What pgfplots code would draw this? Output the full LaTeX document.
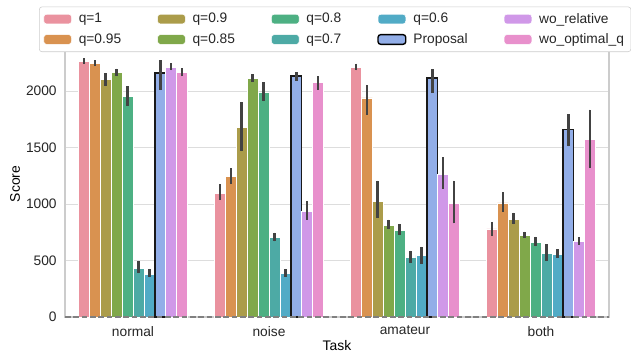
\documentclass[border=0pt]{standalone}
\usepackage{pgfplots}
\pgfplotsset{compat=1.18}
\usepackage{pgfplotstable}
\usepackage{fontspec}
\setmainfont{Liberation Sans}
\definecolor{c1}{HTML}{EA929F}
\definecolor{c2}{HTML}{D99250}
\definecolor{c3}{HTML}{AB9C4A}
\definecolor{c4}{HTML}{80A84A}
\definecolor{c5}{HTML}{4DB083}
\definecolor{c6}{HTML}{4DAAA5}
\definecolor{c7}{HTML}{51ABC6}
\definecolor{c8}{HTML}{92AEE8}
\definecolor{c9}{HTML}{D098E8}
\definecolor{c10}{HTML}{E890CC}
\definecolor{textgray}{HTML}{262626}
\definecolor{gridgray}{HTML}{DDDDDD}
\definecolor{spinegray}{HTML}{CCCCCC}
\definecolor{errgray}{HTML}{424242}
\definecolor{zerogray}{HTML}{808080}

\pgfplotstableread{
x y ep em
0 2264 30 20
1 1097 80 60
2 2214 30 30
3 780 63 63
}\tqa
\pgfplotstableread{
x y ep em
0 2246 30 25
1 1242 77 65
2 1941 116 148
3 1011 95 80
}\tqb
\pgfplotstableread{
x y ep em
0 2104 59 60
1 1677 229 210
2 1025 184 145
3 866 58 45
}\tqc
\pgfplotstableread{
x y ep em
0 2163 36 30
1 2110 41 27
2 812 50 35
3 726 30 24
}\tqd
\pgfplotstableread{
x y ep em
0 1953 91 86
1 1994 86 83
2 765 59 39
3 664 47 36
}\tqe
\pgfplotstableread{
x y ep em
0 430 68 44
1 706 41 36
2 528 59 48
3 566 77 71
}\tqf
\pgfplotstableread{
x y ep em
0 380 47 30
1 385 42 29
2 545 77 77
3 557 45 33
}\tqg
\pgfplotstableread{
x y ep em
0 2160 116 151
1 2134 35 42
2 2116 77 130
3 1662 134 151
}\tprop
\pgfplotstableread{
x y ep em
0 2211 35 24
1 937 88 77
2 1266 147 131
3 670 38 30
}\tworel
\pgfplotstableread{
x y ep em
0 2166 38 33
1 2077 56 62
2 1005 204 175
3 1571 266 252
}\twoopt

\pgfplotsset{
  mybar/.style={ybar, bar width=0.08, bar shift=0, draw=white, line width=0.5pt, forget plot,
    error bars/y dir=both, error bars/y explicit, error bars/error mark=none,
    error bars/error bar style={line width=1.9pt, color=errgray, solid}},
}

\begin{document}
\begin{tikzpicture}
\useasboundingbox (0,0) rectangle (454.32pt,254.16pt);
\clip (0,0) rectangle (454.32pt,254.16pt);
\begin{axis}[
  at={(46.8pt,25.92pt)}, anchor=south west,
  scale only axis, width=391.68pt, height=191.52pt,
  xmin=-0.5, xmax=3.5, ymin=0, ymax=2356,
  xtick={0,1,2,3}, xticklabels={normal,noise,amateur,both},
  ytick={0,500,1000,1500,2000},
  ymajorgrids, grid style={color=gridgray, line width=0.8pt},
  axis line style={color=spinegray, line width=0.8pt},
  major tick length=0pt,
  tick label style={font=\fontsize{9.9}{12}\selectfont, text=textgray},
  /pgf/number format/assume math mode=true,
  /pgf/number format/1000 sep={},
  scaled y ticks=false,
  yticklabel style={xshift=-2.5pt},
  xticklabel style={yshift=-3pt},
  xlabel={Task}, ylabel={Score},
  label style={font=\fontsize{9.9}{12}\selectfont, text=textgray},
  every axis x label/.style={at={(rel axis cs:0.5,0)}, yshift=-20.6pt, anchor=center},
  every axis y label/.style={at={(rel axis cs:0,0.5)}, xshift=-36pt, anchor=center, rotate=90},
  legend columns=5,
  legend cell align=left,
  legend image code/.code={\draw[#1] (0pt,-3.5pt) rectangle (20pt,3.5pt);},
  legend style={at={(0,1)}, anchor=north west, xshift=-18.7pt, yshift=32pt,
    draw=spinegray, rounded corners=2pt, fill=white,
    font=\fontsize{9.9}{12}\selectfont, text=textgray,
    inner xsep=3pt, inner ysep=2.5pt, row sep=2pt,
    /tikz/every even column/.append style={column sep=24pt},
    /tikz/every odd column/.append style={column sep=3pt}},
]
\addplot[mybar, fill=c1] table[x expr=\thisrow{x}-0.36, y=y, y error plus=ep, y error minus=em] {\tqa};
\addplot[mybar, fill=c2] table[x expr=\thisrow{x}-0.28, y=y, y error plus=ep, y error minus=em] {\tqb};
\addplot[mybar, fill=c3] table[x expr=\thisrow{x}-0.20, y=y, y error plus=ep, y error minus=em] {\tqc};
\addplot[mybar, fill=c4] table[x expr=\thisrow{x}-0.12, y=y, y error plus=ep, y error minus=em] {\tqd};
\addplot[mybar, fill=c5] table[x expr=\thisrow{x}-0.04, y=y, y error plus=ep, y error minus=em] {\tqe};
\addplot[mybar, fill=c6] table[x expr=\thisrow{x}+0.04, y=y, y error plus=ep, y error minus=em] {\tqf};
\addplot[mybar, fill=c7] table[x expr=\thisrow{x}+0.12, y=y, y error plus=ep, y error minus=em] {\tqg};
\addplot[mybar, fill=c8, draw=black!90, line width=1.1pt] table[x expr=\thisrow{x}+0.20, y=y, y error plus=ep, y error minus=em] {\tprop};
\addplot[mybar, fill=c9] table[x expr=\thisrow{x}+0.28, y=y, y error plus=ep, y error minus=em] {\tworel};
\addplot[mybar, fill=c10] table[x expr=\thisrow{x}+0.36, y=y, y error plus=ep, y error minus=em] {\twoopt};
\draw[color=zerogray, line width=1pt, dash pattern=on 4pt off 2pt] (rel axis cs:0,0) -- (rel axis cs:1,0);
\addlegendimage{fill=c1, draw=white}\addlegendentry{q=1}
\addlegendimage{fill=c3, draw=white}\addlegendentry{q=0.9}
\addlegendimage{fill=c5, draw=white}\addlegendentry{q=0.8}
\addlegendimage{fill=c7, draw=white}\addlegendentry{q=0.6}
\addlegendimage{fill=c9, draw=white}\addlegendentry{wo\_relative}
\addlegendimage{fill=c2, draw=white}\addlegendentry{q=0.95}
\addlegendimage{fill=c4, draw=white}\addlegendentry{q=0.85}
\addlegendimage{fill=c6, draw=white}\addlegendentry{q=0.7}
\addlegendimage{fill=c8, draw=black, line width=1pt}\addlegendentry{Proposal}
\addlegendimage{fill=c10, draw=white}\addlegendentry{wo\_optimal\_q}
\end{axis}
\end{tikzpicture}
\end{document}
